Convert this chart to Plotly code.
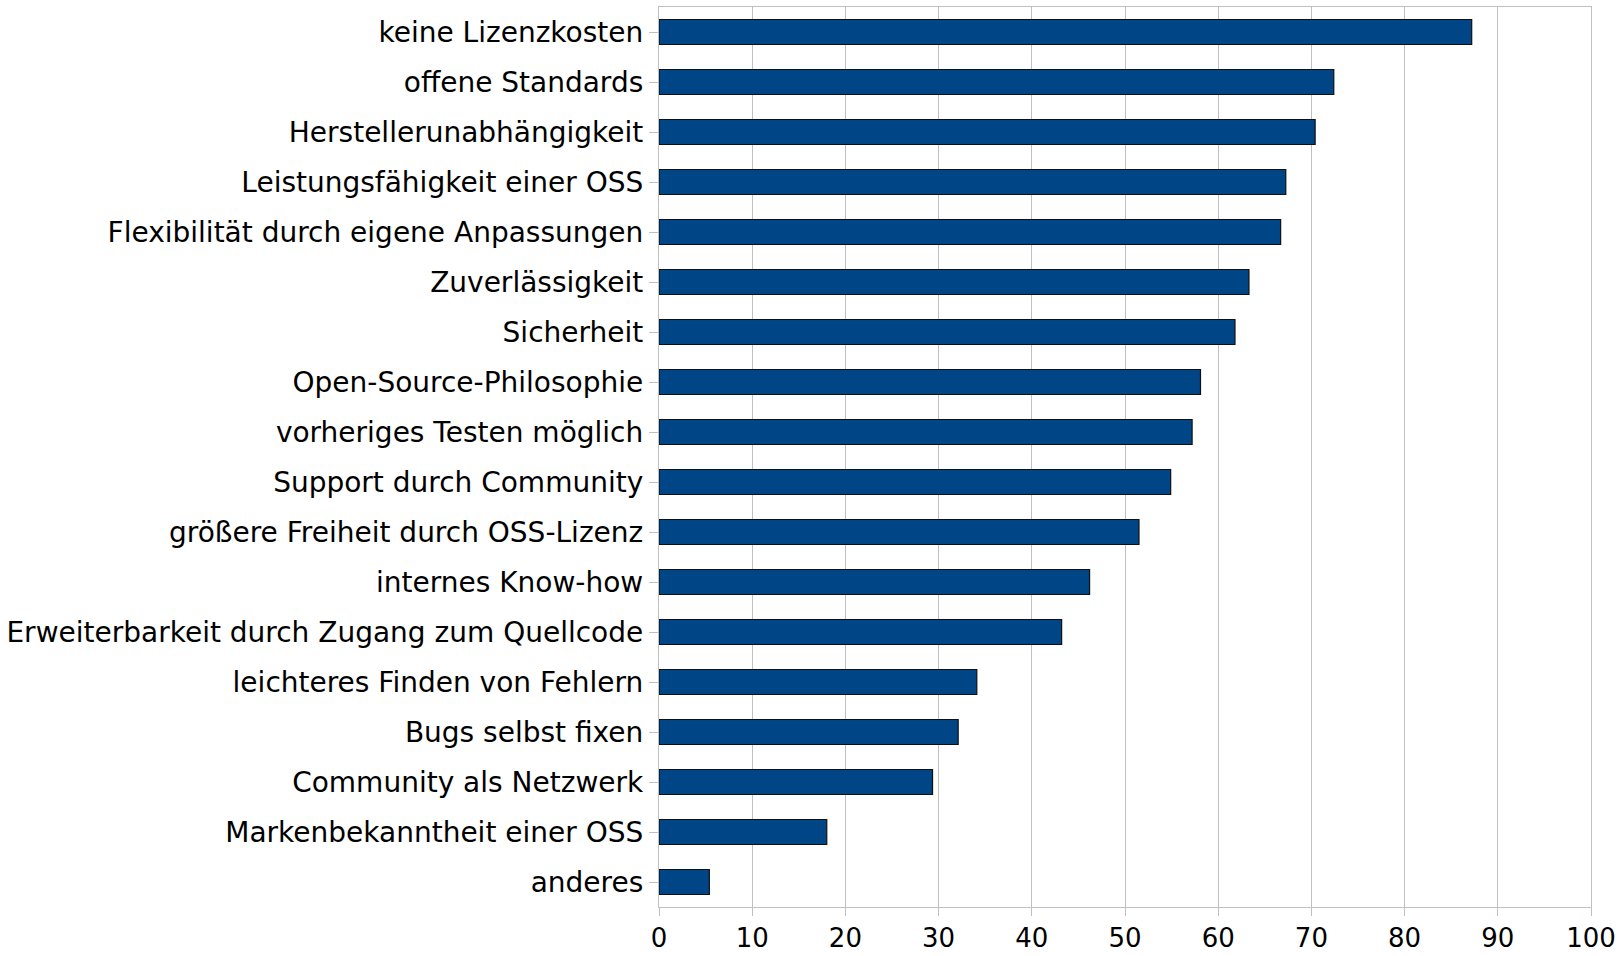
import plotly.graph_objects as go

# Gründe für den Einsatz von OSS (Anteil in %)
categories = [
    "keine Lizenzkosten",
    "offene Standards",
    "Herstellerunabhängigkeit",
    "Leistungsfähigkeit einer OSS",
    "Flexibilität durch eigene Anpassungen",
    "Zuverlässigkeit",
    "Sicherheit",
    "Open-Source-Philosophie",
    "vorheriges Testen möglich",
    "Support durch Community",
    "größere Freiheit durch OSS-Lizenz",
    "internes Know-how",
    "Erweiterbarkeit durch Zugang zum Quellcode",
    "leichteres Finden von Fehlern",
    "Bugs selbst fixen",
    "Community als Netzwerk",
    "Markenbekanntheit einer OSS",
    "anderes",
]
values = [87.2, 72.4, 70.4, 67.25, 66.7, 63.3, 61.8, 58.1, 57.2, 54.9,
          51.5, 46.2, 43.2, 34.1, 32.1, 29.35, 18.0, 5.4]
x_ticks = [0, 10, 20, 30, 40, 50, 60, 70, 80, 90, 100]

BAR_COLOR = "#004586"
GRID = "#c0c0c0"
FONT = "DejaVu Sans, Liberation Sans, sans-serif"
FONT_SIZE = 28

fig = go.Figure(go.Bar(
    x=values,
    y=categories,
    orientation="h",
    marker=dict(color=BAR_COLOR, line=dict(color="#101010", width=1.2)),
    hoverinfo="x+y",
))

fig.update_layout(
    width=1620,
    height=956,
    margin=dict(l=659, r=29, t=7, b=49),
    plot_bgcolor="white",
    paper_bgcolor="white",
    bargap=0.5,
    showlegend=False,
    font=dict(family=FONT, size=FONT_SIZE, color="#000000"),
)

axis_style = dict(
    showline=True,
    linecolor=GRID,
    linewidth=1.3,
    mirror=True,
    ticks="outside",
    tickcolor=GRID,
    tickwidth=1.3,
    automargin=False,
)

fig.update_xaxes(
    range=[0, 100],
    tickvals=x_ticks,
    showgrid=True,
    gridcolor=GRID,
    gridwidth=1.3,
    zeroline=False,
    ticklen=8,
    tickfont=dict(family=FONT, size=26, color="#000000"),
    **axis_style,
)

fig.update_yaxes(
    autorange="reversed",
    showgrid=False,
    ticklen=9,
    tickfont=dict(family=FONT, size=FONT_SIZE, color="#000000"),
    **axis_style,
)

# remove the default body margin so the figure fills the window exactly
fig.write_html(
    "out.html",
    config={"displayModeBar": False},
    post_script="document.body.style.margin='0';",
)
